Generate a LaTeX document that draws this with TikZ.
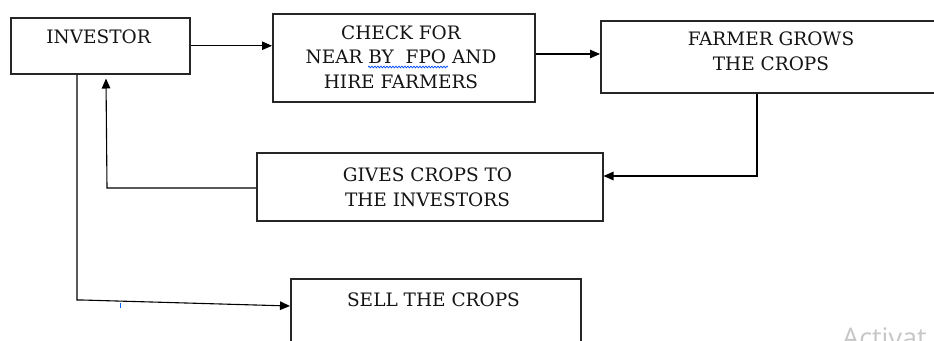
\documentclass[tikz,border=0pt]{standalone}
\usepackage{fontspec}
\setmainfont{DejaVu Serif}
\newfontfamily\wmfont{Open Sans}
\usetikzlibrary{arrows.meta,decorations.pathmorphing}
\begin{document}
\begin{tikzpicture}[x=1pt,y=-1pt,
  box/.style={draw=black!85, line width=1.5pt, anchor=north west, inner sep=0pt},
  txt/.style={inner sep=0pt, align=center, text=black!92, font=\fontsize{18.5}{24.5}\selectfont},
  conn/.style={draw=black, line width=1.1pt},
  arr/.style={conn, -{Triangle[length=10pt,width=8.5pt]}}]
\useasboundingbox (0,0) rectangle (934,340);
\fill[white] (0,0) rectangle (934,340);
\clip (0,0) rectangle (934,340);
% boxes
\node[box, minimum width=179pt, minimum height=56pt] (inv) at (10,17) {};
\node[box, minimum width=262pt, minimum height=88pt] (chk) at (272,13) {};
\node[box, minimum width=345pt, minimum height=72pt] (farm) at (600,20) {};
\node[box, minimum width=346pt, minimum height=68pt] (gives) at (256,152) {};
\node[box, minimum width=290pt, minimum height=90pt] (sell) at (290,278) {};
% texts
\node[txt] (invt) at (98.5,37) {INVESTOR};
\node[txt] (chkt) at (401,57) {CHECK FOR\\NEAR BY\ \ FPO AND\\HIRE FARMERS};
\node[txt] (farmt) at (771,51.5) {FARMER GROWS\\THE CROPS};
\node[txt] (givest) at (427.5,187.5) {GIVES CROPS TO\\THE INVESTORS};
\node[txt] (sellt) at (433.5,299.5) {SELL THE CROPS};
% spell-check underline and cursor tick
\draw[blue!70!cyan, line width=0.7pt, decorate, decoration={snake, amplitude=0.9pt, segment length=3pt}] (368,67) -- (448,67);
\draw[blue!60!cyan, line width=0.8pt] (120,303) -- (120,308);
% connectors
\draw[arr] (inv.east) -- (inv.east -| chk.west);
\draw[arr] (chk.east |- 0,54) -- (farm.west |- 0,54);
\draw[arr] (farm.south -| 757,0) -- (757,176) -- (gives.east |- 0,176);
\draw[arr] (gives.west |- 0,188) -- (107,188) -- ([yshift=-4pt]inv.south -| 106,0);
\draw[arr] (inv.south -| 77,0) -- (77,300) -- (82,300) -- (sell.west |- 0,306);
% watermark
\node[anchor=base west, inner sep=0pt, text=black!22, font=\wmfont\fontsize{27}{30}\selectfont] (wm) at (842,347) {Activat};
\end{tikzpicture}
\end{document}
